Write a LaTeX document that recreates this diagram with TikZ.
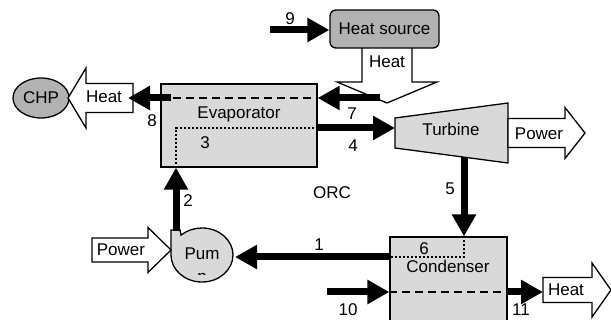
\documentclass[tikz,border=0pt]{standalone}
\usepackage{fontspec}
\setmainfont{Liberation Sans}
\usetikzlibrary{arrows.meta, shapes.geometric}

\begin{document}
\begin{tikzpicture}[x=1pt, y=-1pt, font=\fontsize{17}{20}\selectfont,
    unit/.style={draw, line width=1.3pt, fill=boxgray},
    flow/.style={line width=7pt, -{Triangle[length=22pt, width=23pt]}},
    hot/.style={line width=2pt, dash pattern=on 8pt off 5pt},
    wf/.style={line width=2pt, dash pattern=on 2pt off 2pt}]
    % Colours of the units
    \definecolor{boxgray}{RGB}{217, 217, 217} % light units
    \definecolor{srcgray}{RGB}{178, 178, 178} % heat source and CHP

    \useasboundingbox (0,0) rectangle (611,320);
    \clip (0,0) rectangle (611,320);

    % Macro for the white block arrows
    % \blockarr{tail x}{head x}{tip x}{y}{body half}{head half}
    \newcommand{\blockarr}[6]{
        \draw[line width=1.3pt, fill=white] (#1,#4-#5) -- (#2,#4-#5) -- (#2,#4-#6)
            -- (#3,#4) -- (#2,#4+#6) -- (#2,#4+#5) -- (#1,#4+#5) -- cycle;
    }

    % 1. Heat source and heat to the evaporator
    \draw[line width=1.3pt, fill=white] (362,44) -- (362,82) -- (337,82) -- (387,103)
        -- (437,82) -- (412,82) -- (412,44);
    \node (heatin) at (387,62) {Heat};
    \node[unit, fill=srcgray, rounded corners=6pt, minimum width=109pt,
          minimum height=38pt, inner sep=0pt] (src) at (384.5,29) {Heat source};

    % 2. Units
    \node[unit, minimum width=156pt, minimum height=83pt] (evap) at (239,125.5) {};
    \node (evaptxt) at (239,114) {Evaporator};
    \node[unit, minimum width=117pt, minimum height=103pt] (cond) at (448.5,288.5) {};
    \node (condtxt) at (448,266) {Condenser};

    \draw[unit] (395,118) -- (508,103) -- (508,163) -- (395,148) -- cycle;
    \node (turb) at (451,129) {Turbine};

    \draw[unit] (180,230) -- (171,230) -- (171,255)
        arc[start angle=180, end angle=-132.6, x radius=31, y radius=27] -- cycle;
    \node (pump) at (202,254) {Pum};
    \begin{scope}
        \clip (172,262) rectangle (232,275);
        \node (pumptail) at (202,280) {p};
    \end{scope}

    % 3. CHP and the block arrows
    \node[draw, line width=1.3pt, fill=srcgray, ellipse, minimum width=56pt,
          minimum height=40pt, inner sep=0pt] (chp) at (41,98) {CHP};
    \blockarr{133}{86}{68}{98}{14.5}{30}
    \node (heatchp) at (104,97) {Heat};
    \blockarr{92}{148}{171}{250}{12}{22.5}
    \node (powin) at (121,250) {Power};
    \blockarr{508}{565}{585}{133}{14.5}{25.5}
    \node (powout) at (539,134) {Power};
    \blockarr{543}{592}{611}{290}{12.5}{27}
    \node (heatout) at (566,290) {Heat};

    % 4. Streams inside the units
    \coordinate (e8) at (171,98);
    \coordinate (e3) at (176,128);
    \coordinate (c6) at (464,257);
    \draw[hot] (evap.west |- e8) -- (evap.east |- e8);
    \draw[wf] (evap.east |- e3) -- (e3) -- (e3 |- evap.south);
    \draw[wf] (c6 |- cond.north) -- (c6) -- (cond.west |- c6);
    \draw[hot] (cond.west |- 0,292) -- (cond.east |- 0,292);

    % 5. Flow arrows
    \coordinate (in9) at (270,30);
    \coordinate (in7) at (380,98);
    \coordinate (in10) at (327,292);
    \coordinate (out11) at (543,292);
    \coordinate (t5) at (464,157);
    \draw[flow] (in9) -- (src.west |- in9);
    \draw[flow] (in7) -- (evap.east |- in7);
    \draw[flow] (e8) -- (128,98);
    \draw[flow] (evap.east |- e3) -- (395,128);
    \draw[flow] (t5) -- (t5 |- cond.north);
    \draw[flow] (cond.west |- c6) -- (235,257);
    \draw[flow] (176,231) -- (e3 |- evap.south);
    \draw[flow] (in10) -- (cond.west |- in10);
    \draw[flow] (cond.east |- out11) -- (out11);

    % 6. Stream numbers
    \node (n9) at (290,19) {9};
    \node (n7) at (352,114) {7};
    \node (n8) at (152,121) {8};
    \node (n4) at (353,146) {4};
    \node (n3) at (205,143) {3};
    \node (n5) at (450,189) {5};
    \node (n6) at (424,249) {6};
    \node (n1) at (319,245) {1};
    \node (n2) at (188,201) {2};
    \node (n10) at (348,310) {10};
    \node (n11) at (521,310) {11};
    \node (orc) at (332,193) {ORC};

\end{tikzpicture}
\end{document}
